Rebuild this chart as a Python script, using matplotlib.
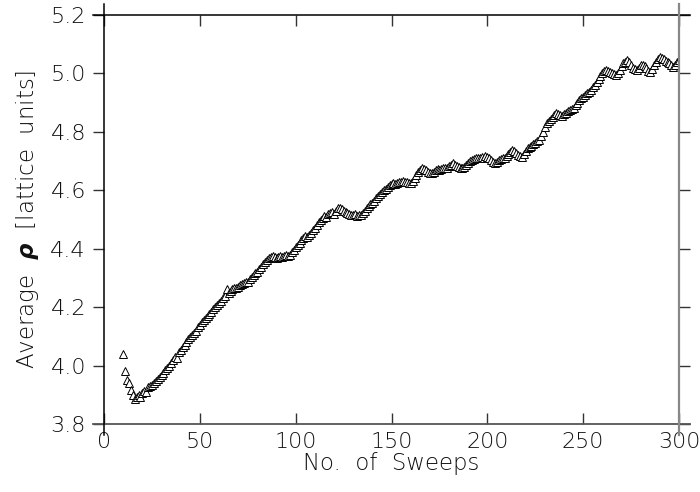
import matplotlib.pyplot as plt

# average rho per sweep (sweeps 10..300)
sweeps = list(range(10, 301))
avg_rho = [
    4.040, 3.980, 3.952, 3.942, 3.915, 3.900, 3.886, 3.892, 3.898, 3.894,  # 10-19
    3.905, 3.912, 3.908, 3.925, 3.930, 3.935, 3.942, 3.948, 3.955, 3.962,  # 20-29
    3.968, 3.975, 3.984, 3.992, 4.000, 4.010, 4.018, 4.028, 4.025, 4.045,  # 30-39
    4.055, 4.062, 4.070, 4.080, 4.090, 4.098, 4.105, 4.112, 4.120, 4.132,  # 40-49
    4.140, 4.148, 4.155, 4.162, 4.170, 4.178, 4.185, 4.192, 4.200, 4.208,  # 50-59
    4.214, 4.222, 4.230, 4.238, 4.262, 4.248, 4.255, 4.262, 4.266, 4.264,  # 60-69
    4.270, 4.275, 4.278, 4.282, 4.287, 4.285, 4.295, 4.302, 4.310, 4.318,  # 70-79
    4.322, 4.330, 4.338, 4.348, 4.355, 4.362, 4.368, 4.373, 4.376, 4.372,  # 80-89
    4.368, 4.372, 4.375, 4.370, 4.374, 4.378, 4.376, 4.380, 4.388, 4.396,  # 90-99
    4.405, 4.412, 4.420, 4.430, 4.438, 4.442, 4.440, 4.446, 4.455, 4.464,  # 100-109
    4.472, 4.480, 4.490, 4.500, 4.505, 4.512, 4.510, 4.518, 4.522, 4.527,  # 110-119
    4.520, 4.530, 4.538, 4.540, 4.535, 4.530, 4.525, 4.522, 4.518, 4.515,  # 120-129
    4.515, 4.520, 4.512, 4.516, 4.515, 4.522, 4.530, 4.538, 4.545, 4.552,  # 130-139
    4.558, 4.565, 4.573, 4.580, 4.588, 4.595, 4.600, 4.606, 4.612, 4.618,  # 140-149
    4.622, 4.625, 4.620, 4.626, 4.630, 4.628, 4.632, 4.630, 4.630, 4.626,  # 150-159
    4.625, 4.632, 4.642, 4.652, 4.662, 4.670, 4.676, 4.672, 4.668, 4.664,  # 160-169
    4.660, 4.658, 4.662, 4.668, 4.672, 4.670, 4.674, 4.678, 4.676, 4.676,  # 170-179
    4.682, 4.688, 4.692, 4.688, 4.684, 4.680, 4.678, 4.675, 4.680, 4.688,  # 180-189
    4.695, 4.700, 4.704, 4.708, 4.709, 4.712, 4.710, 4.714, 4.712, 4.716,  # 190-199
    4.715, 4.712, 4.705, 4.698, 4.692, 4.696, 4.702, 4.706, 4.709, 4.712,  # 200-209
    4.718, 4.725, 4.732, 4.738, 4.735, 4.728, 4.722, 4.718, 4.715, 4.725,  # 210-219
    4.735, 4.744, 4.748, 4.752, 4.758, 4.762, 4.768, 4.772, 4.785, 4.800,  # 220-229
    4.815, 4.829, 4.838, 4.845, 4.852, 4.858, 4.864, 4.862, 4.858, 4.855,  # 230-239
    4.860, 4.866, 4.870, 4.874, 4.878, 4.882, 4.892, 4.900, 4.908, 4.915,  # 240-249
    4.920, 4.926, 4.932, 4.938, 4.944, 4.952, 4.962, 4.972, 4.982, 4.992,  # 250-259
    5.000, 5.008, 5.012, 5.008, 5.004, 5.000, 4.998, 4.995, 5.000, 5.012,  # 260-269
    5.025, 5.035, 5.040, 5.046, 5.040, 5.030, 5.020, 5.015, 5.012, 5.020,  # 270-279
    5.028, 5.030, 5.025, 5.018, 5.010, 5.006, 5.015, 5.028, 5.040, 5.050,  # 280-289
    5.057, 5.052, 5.048, 5.044, 5.040, 5.035, 5.028, 5.023, 5.030, 5.040,  # 290-299
    5.046,                                                                 # 300
]

xticks = [0, 50, 100, 150, 200, 250, 300]
yticks = [3.8, 4.0, 4.2, 4.4, 4.6, 4.8, 5.0, 5.2]

plt.rcParams['font.family'] = ['DejaVu Sans']
plt.rcParams['font.weight'] = 'light'
plt.rcParams['axes.labelweight'] = 'light'
plt.rcParams['font.size'] = 16

fig = plt.figure(figsize=(7, 4.92), dpi=100)
ax = fig.add_axes([0.1486, 0.1382, 0.8214, 0.8313])

ax.plot(sweeps, avg_rho, linestyle='none', marker='^', markersize=5.2,
        markerfacecolor='white', markeredgecolor='black', markeredgewidth=0.7)

ax.set_xlim(0, 300)
ax.set_ylim(3.8, 5.2)
ax.set_xticks(xticks)
ax.set_yticks(yticks)
ax.set_yticklabels([f"{v:.1f}" for v in yticks])

# frame drawn by hand so the lines run past the corners
for s in ax.spines.values():
    s.set_visible(False)
ov_x, ov_y = 0.019, 0.027
ax.plot([-ov_x, 1 + ov_x], [1, 1], transform=ax.transAxes, clip_on=False, color='black', lw=1.1)
ax.plot([-ov_x, 1 + ov_x], [0, 0], transform=ax.transAxes, clip_on=False, color='#555555', lw=1.3)
ax.plot([0, 0], [-ov_y, 1 + ov_y], transform=ax.transAxes, clip_on=False, color='black', lw=1.1)
ax.plot([1, 1], [-ov_y, 1 + ov_y], transform=ax.transAxes, clip_on=False, color='#888888', lw=1.6)

ax.tick_params(axis='x', direction='in', top=True, bottom=True, length=8, width=1,
               color='#333333', pad=6, labelcolor='#111111')
ax.tick_params(axis='y', direction='out', left=True, right=True, length=8, width=1,
               color='#333333', pad=5, labelcolor='#111111')

ax.set_xlabel("No.  of  Sweeps", fontsize=16.5, color='#111111', labelpad=0)
ax.set_ylabel(r"Average  $\boldsymbol{\rho}$  [lattice  units]", fontsize=16.5,
              color='#111111', labelpad=7)

fig.savefig("out.png", dpi=100)
